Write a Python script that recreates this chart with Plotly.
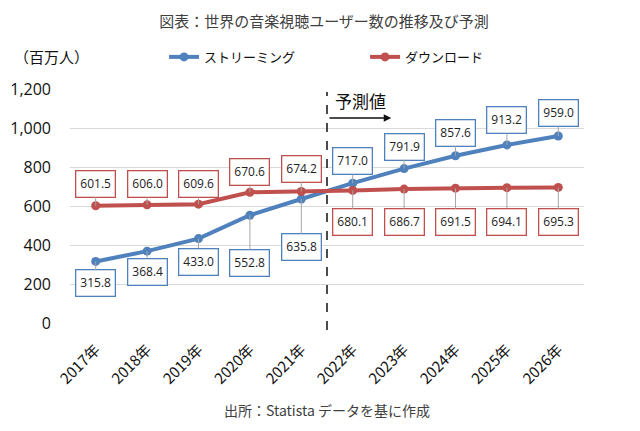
import plotly.graph_objects as go

years = ["2017年", "2018年", "2019年", "2020年", "2021年", "2022年", "2023年", "2024年", "2025年", "2026年"]
streaming = [315.8, 368.4, 433.0, 552.8, 635.8, 717.0, 791.9, 857.6, 913.2, 959.0]
download = [601.5, 606.0, 609.6, 670.6, 674.2, 680.1, 686.7, 691.5, 694.1, 695.3]
stream_offsets = [22, 21, 23, 48, 48, -22, -22, -23, -25, -23]
download_offsets = [-22, -21, -20, -20, -23, 32, 33, 34, 34, 35]

BLUE = "#4F81BD"
RED = "#C0504D"
FONT = "Noto Sans CJK JP"

fig = go.Figure()
fig.add_trace(go.Scatter(x=years, y=streaming, name="ストリーミング", mode="lines+markers",
                         line=dict(color=BLUE, width=4), marker=dict(size=9, color=BLUE)))
fig.add_trace(go.Scatter(x=years, y=download, name="ダウンロード", mode="lines+markers",
                         line=dict(color=RED, width=4), marker=dict(size=9, color=RED)))

annotations = []
for series, offs, col in ((streaming, stream_offsets, BLUE), (download, download_offsets, RED)):
    for yr, v, off in zip(years, series, offs):
        annotations.append(dict(
            x=yr, y=v, xref="x", yref="y", text=f"{v:.1f}", showarrow=True,
            ax=0, ay=off, arrowhead=0, arrowwidth=1, arrowcolor="#A6A6A6", standoff=0,
            bordercolor=col, borderwidth=1.3, borderpad=4, bgcolor="white",
            font=dict(family="Open Sans, Noto Sans", size=12, color="#222222")))

# forecast text and arrow
annotations.append(dict(x=4.5, y=1143, xref="x", yref="y", text="予測値", showarrow=False,
                        xanchor="left", xshift=6, font=dict(family=FONT, size=17, color="#111111")))
annotations.append(dict(x=5.75, y=1051, xref="x", yref="y", ax=4.52, ay=1051, axref="x", ayref="y",
                        text="", showarrow=True, arrowhead=2, arrowsize=1, arrowwidth=1.5,
                        arrowcolor="#111111"))
# unit label
annotations.append(dict(x=-0.113, y=1.137, xref="paper", yref="paper", text="（百万人）", showarrow=False,
                        xanchor="left", yanchor="middle",
                        font=dict(family=FONT, size=15, color="#111111")))
# source
annotations.append(dict(x=0.5, y=-0.372, xref="paper", yref="paper", text="出所：Statista データを基に作成",
                        showarrow=False, xanchor="center", yanchor="middle",
                        font=dict(family=FONT, size=14, color="#404040")))

fig.update_layout(
    width=632, height=423,
    margin=dict(l=62, r=56, t=81, b=108, autoexpand=False),
    paper_bgcolor="white", plot_bgcolor="white",
    title=dict(text="図表：世界の音楽視聴ユーザー数の推移及び予測", x=0.5, xanchor="center",
               y=1 - 14 / 423, yanchor="middle",
               font=dict(family=FONT, size=15, color="#404040")),
    showlegend=True,
    legend=dict(orientation="h", x=0.183, y=1.137, xanchor="left", yanchor="middle",
                entrywidth=156, font=dict(family=FONT, size=13, color="#111111"),
                bgcolor="rgba(0,0,0,0)"),
    annotations=annotations,
    shapes=[dict(type="line", xref="x", yref="paper", x0=4.5, x1=4.5, y0=-0.03, y1=0.987,
                 line=dict(color="#111111", width=1.5, dash="dash"))],
)
fig.update_xaxes(type="category", range=[-0.5, 9.5], tickangle=-45, showgrid=False,
                 showline=False, ticks="", ticklabelstandoff=14,
                 automargin=False,
                 tickfont=dict(family=FONT, size=15, color="#111111"))
fig.update_yaxes(range=[0, 1200], dtick=200, tickformat=",", showgrid=True, gridcolor="#D9D9D9",
                 zeroline=False, showline=False, ticks="", ticklabelstandoff=18,
                 automargin=False,
                 tickfont=dict(family="Open Sans, Noto Sans", size=16, color="#111111"))

fig.write_html("out.html")
